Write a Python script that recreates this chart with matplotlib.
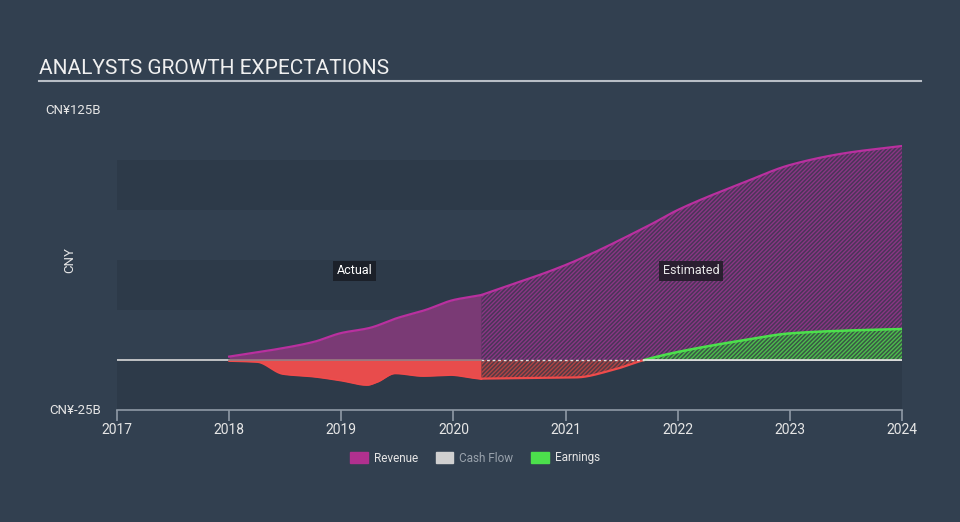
import matplotlib
matplotlib.use("Agg")
import matplotlib.pyplot as plt
import matplotlib.patches as mpatches
import numpy as np

plt.rcParams['font.family'] = ['Roboto', 'DejaVu Sans']
plt.rcParams['hatch.linewidth'] = 1.0

# Data (CNY billions)
rev_act_x = [2018.0, 2018.35, 2018.75, 2019.0, 2019.25, 2019.5, 2019.75, 2020.0, 2020.2, 2020.25]
rev_act_y = [1.7, 4.7, 9.0, 13.5, 16.0, 21.0, 25.0, 30.0, 32.0, 32.5]
rev_est_x = [2020.25, 2021.0, 2021.75, 2022.0, 2022.6, 2023.0, 2023.5, 2024.0]
rev_est_y = [32.5, 47.5, 67.5, 75.0, 89.0, 97.5, 103.5, 107.0]

earn_act_x = [2018.0, 2018.25, 2018.48, 2018.75, 2019.0, 2019.23, 2019.32, 2019.48, 2019.73, 2019.97, 2020.18, 2020.25]
earn_act_y = [-0.5, -1.0, -7.0, -8.3, -10.3, -12.5, -11.0, -6.7, -8.0, -7.5, -9.0, -9.5]
earn_est_x = [2020.25, 2021.0, 2021.1, 2021.42, 2021.7, 2022.0, 2022.6, 2023.0, 2023.5, 2024.0]
earn_est_y = [-9.3, -8.8, -8.7, -5.0, 0.0, 4.0, 10.0, 13.3, 14.7, 15.5]

years = [2017, 2018, 2019, 2020, 2021, 2022, 2023, 2024]
ytick_vals = [125, -25]
ytick_labels = ['CN¥125B', 'CN¥-25B']
legend_labels = ['Revenue', 'Cash Flow', 'Earnings']

BG = '#324050'
BAND = '#2d3a49'
REV_LINE = '#b9309f'
REV_FILL = '#7a3a75'
EARN_RED = '#ef4b4b'
GREEN = '#4ce04c'

fig = plt.figure(figsize=(9.6, 5.22), dpi=100)
fig.patch.set_facecolor(BG)
ax = fig.add_axes([117/960, 1-410/522, (902-117)/960, 300/522])
ax.set_facecolor(BG)
ax.set_xlim(2017, 2024)
ax.set_ylim(-25, 125)

for lo, hi in [(75, 100), (25, 50), (-25, 0)]:
    ax.axhspan(lo, hi, color=BAND, lw=0, zorder=0)

def smooth(xs, ys, n=300):
    xs = np.asarray(xs, float); ys = np.asarray(ys, float)
    xx = np.linspace(xs[0], xs[-1], n)
    h = np.diff(xs); d = np.diff(ys) / h
    m = np.zeros_like(ys)
    for i in range(1, len(xs)-1):
        if d[i-1]*d[i] > 0:
            w1 = 2*h[i] + h[i-1]; w2 = h[i] + 2*h[i-1]
            m[i] = (w1 + w2) / (w1/d[i-1] + w2/d[i])
    m[0] = d[0]; m[-1] = d[-1]
    idx = np.clip(np.searchsorted(xs, xx) - 1, 0, len(xs)-2)
    t = (xx - xs[idx]) / h[idx]
    h00 = 2*t**3 - 3*t**2 + 1; h10 = t**3 - 2*t**2 + t
    h01 = -2*t**3 + 3*t**2; h11 = t**3 - t**2
    yy = h00*ys[idx] + h10*h[idx]*m[idx] + h01*ys[idx+1] + h11*h[idx]*m[idx+1]
    return xx, yy

ax.plot([2017, 2024], [0, 0], color='#d8d8d8', lw=1.2, zorder=1)

HATCH = '////////'

# Revenue actual
x, y = smooth(rev_act_x, rev_act_y)
ax.fill_between(x, 0, y, color=REV_FILL, lw=0, zorder=2)
ax.plot(x, y, color=REV_LINE, lw=1.6, zorder=4)
# Revenue estimated
x, y = smooth(rev_est_x, rev_est_y)
ax.fill_between(x, 0, y, facecolor='#4a3658', edgecolor='#8a3584', hatch=HATCH, lw=0, zorder=2)
ax.plot(x, y, color=REV_LINE, lw=1.6, zorder=4)

# Earnings actual
x, y = smooth(earn_act_x, earn_act_y)
ax.fill_between(x, 0, y, color='#e84c4c', lw=0, zorder=3)
ax.plot(x, y, color=EARN_RED, lw=1.3, zorder=4)
# Earnings estimated
x, y = smooth(earn_est_x, earn_est_y)
neg = y <= 0
pos = y >= 0
ax.fill_between(x, 0, y, where=neg, facecolor='#533a46', edgecolor='#b04444', hatch=HATCH, lw=0, zorder=3)
ax.fill_between(x, 0, y, where=pos, facecolor='#395845', edgecolor='#4dbd4d', hatch=HATCH, lw=0, zorder=3)
ax.plot(np.where(neg, x, np.nan), np.where(neg, y, np.nan), color=EARN_RED, lw=1.6, zorder=4)
ax.plot(np.where(pos, x, np.nan), np.where(pos, y, np.nan), color=GREEN, lw=1.8, zorder=4)

ax.plot([2020.25, 2021.7], [0, 0], color='#e0e0e0', lw=1.0, ls=(0, (2, 2)), zorder=5)
ax.plot([2021.7, 2024], [0, 0], color='#e0e0e0', lw=1.2, zorder=5)
ax.plot([2018, 2020.25], [0, 0], color='#9a7a80', lw=1.2, zorder=5)

for s in ['top', 'right', 'left']:
    ax.spines[s].set_visible(False)
ax.spines['bottom'].set_color('#8f9aa6')
ax.spines['bottom'].set_linewidth(1.2)
ax.set_xticks(years)
ax.set_xticklabels([str(v) for v in years])
ax.tick_params(axis='x', colors='#8f9aa6', length=8, width=1.2, labelcolor='#e6e6e6', labelsize=10, pad=1)
ax.set_yticks([])
for v, lab in zip(ytick_vals, ytick_labels):
    ax.text(2017 - 16/112, v, lab, ha='right', va='center', color='#e6e6e6', fontsize=9.5)

fig.text(70/960, 1-260/522, 'CNY', rotation=90, ha='center', va='center', color='#e6e6e6', fontsize=9.5)

ax.text(2019.12, 44.5, 'Actual', ha='center', va='center', color='#ffffff', fontsize=9,
        bbox=dict(boxstyle='square,pad=0.3', fc='#1b2029', ec='none'), zorder=6)
ax.text(2022.12, 44.5, 'Estimated', ha='center', va='center', color='#e8e8e8', fontsize=9,
        bbox=dict(boxstyle='square,pad=0.3', fc='#2a1f30', ec='none'), zorder=6)

fig.text(39/960, 1-68/522, 'ANALYSTS GROWTH EXPECTATIONS', ha='left', va='center', color='#f0f0f0', fontsize=15)
fig.add_artist(plt.Line2D([39/960, 921/960], [1-81/522, 1-81/522], color='#b8bec6', lw=1.5))

handles = [mpatches.Patch(color='#b1308f'), mpatches.Patch(color='#d0d0d0'), mpatches.Patch(color=GREEN)]
leg = fig.legend(handles, legend_labels, loc='center', bbox_to_anchor=(475/960, 1-458/522), ncol=3,
                 frameon=False, fontsize=8.5, handlelength=1.5, handleheight=1.0, columnspacing=1.5, handletextpad=0.5)
for t, c in zip(leg.get_texts(), ['#e6e6e6', '#9aa3ad', '#e6e6e6']):
    t.set_color(c)

fig.savefig('out.png', dpi=100, facecolor=BG)
